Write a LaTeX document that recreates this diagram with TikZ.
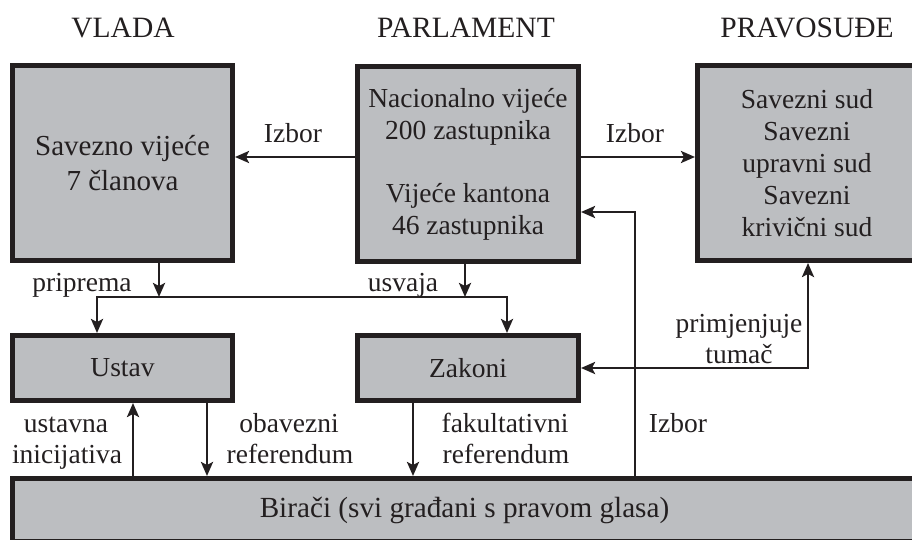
\documentclass[tikz,border=0pt]{standalone}
\usepackage{fontspec}
\setmainfont{Liberation Serif}
\usetikzlibrary{arrows.meta,calc}
\definecolor{ink}{HTML}{231F20}
\definecolor{boxgray}{RGB}{188,190,193}
\newcommand\txtbody{\fontsize{27.5pt}{32pt}\selectfont}
\newcommand\txtgov{\fontsize{29pt}{35pt}\selectfont}
\newcommand\txtvoters{\fontsize{29.2pt}{34pt}\selectfont}
\newcommand\txthead{\fontsize{29.5pt}{34pt}\selectfont}
\begin{document}
\begin{tikzpicture}[x=1pt,y=-1pt,
  >={Stealth[length=14pt,width=12pt,inset=3pt]},
  box/.style={draw=ink, line width=5pt, fill=boxgray, text=ink, align=center, inner sep=0pt, font=\txtbody},
  lbl/.style={text=ink, anchor=base, inner sep=0pt, font=\txtbody},
  head/.style={text=ink, anchor=base, inner sep=0pt, font=\txthead},
  conn/.style={draw=ink, line width=2.6pt, ->},
  conntwo/.style={draw=ink, line width=2.6pt, <->}]
\useasboundingbox (0,0) rectangle (912,540);
\clip (0,0) rectangle (912,540);
% headers
\node[head] (hv) at (123,38) {VLADA};
\node[head] (hp) at (466,38) {PARLAMENT};
\node[head] (hj) at (807,38) {PRAVOSUĐE};
% boxes
\node[box, minimum width=220pt, minimum height=195pt, font=\txtgov] (gov) at (122.5,163) {Savezno vijeće\\7 članova};
\node[box, minimum width=221pt, minimum height=195pt] (parl) at (468,164) {Nacionalno vijeće\\200 zastupnika\\[31pt]Vijeće kantona\\46 zastupnika};
\node[box, minimum width=219pt, minimum height=195pt] (just) at (807,163) {Savezni sud\\Savezni\\upravni sud\\Savezni\\krivični sud};
\node[box, minimum width=220pt, minimum height=65pt] (ustav) at (122.5,368) {Ustav};
\node[box, minimum width=221pt, minimum height=65pt] (zak) at (468,368) {Zakoni};
\node[box, minimum width=904pt, minimum height=63pt, font=\txtvoters] (bir) at (464.5,510) {Birači (svi građani s pravom glasa)};
% helper coordinates
\coordinate (e1) at (635,212);
\coordinate (jg) at (159,297);
\coordinate (jp) at (465,297);
\coordinate (jl) at (97,297);
\coordinate (jr) at (507,297);
\coordinate (u1) at (133,0);
\coordinate (u2) at (207,0);
\coordinate (u3) at (413,0);
\coordinate (pr) at (808,0);
% connectors
\draw[conn] ($(parl.west)+(0,-7)$) -- ($(gov.east)+(0,-6)$);
\draw[conn] ($(parl.east)+(0,-7)$) -- ($(just.west)+(0,-6)$);
\draw[conn] (bir.north -| e1) |- (parl.east |- e1);
\draw[conn] (gov.south -| jg) -- (jg);
\draw[conn] (parl.south -| jp) -- (jp);
\draw[conntwo] (ustav.north -| jl) |- (jr) -- (zak.north -| jr);
\draw[conn] (bir.north -| u1) -- (ustav.south -| u1);
\draw[conn] (ustav.south -| u2) -- (bir.north -| u2);
\draw[conn] (zak.south -| u3) -- (bir.north -| u3);
\draw[conntwo] (zak.east) -| (just.south -| pr);
% labels
\node[lbl] (l1) at (293,143) {Izbor};
\node[lbl] (l2) at (635,143) {Izbor};
\node[lbl] (l3) at (678,432) {Izbor};
\node[lbl] (l4) at (82,291) {priprema};
\node[lbl] (l5) at (403,291) {usvaja};
\node[lbl] (l6a) at (66,432) {ustavna};
\node[lbl] (l6b) at (67,463) {inicijativa};
\node[lbl] (l7a) at (289,432) {obavezni};
\node[lbl] (l7b) at (290,463) {referendum};
\node[lbl] (l8a) at (505,432) {fakultativni};
\node[lbl] (l8b) at (506,463) {referendum};
\node[lbl] (l9a) at (739,332) {primjenjuje};
\node[lbl] (l9b) at (739,363) {tumač};
\end{tikzpicture}
\end{document}
